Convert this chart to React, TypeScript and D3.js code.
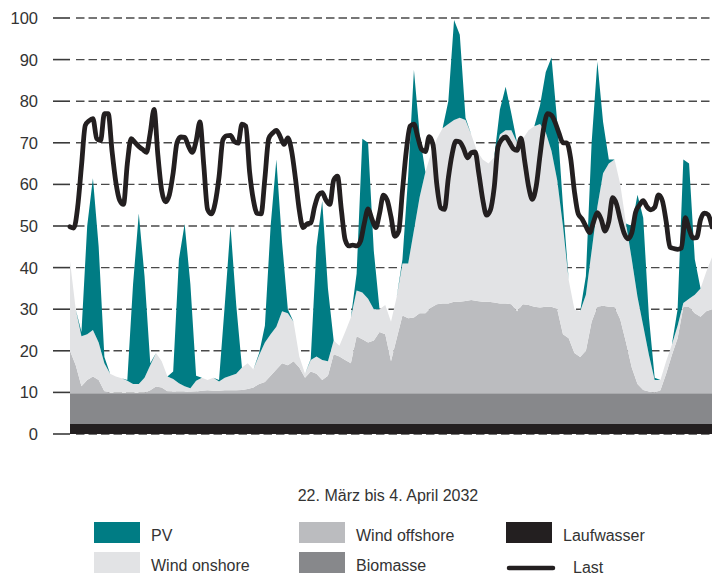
import React from 'react';
import * as d3 from 'd3';

// 22. März bis 4. April 2032, Werte in GW
// Flächen: 3-Stunden-Raster (113 Punkte), Last: 2-Stunden-Raster (169 Punkte)
const HOURS = 336;
const AREA_STEP = 3;
const LOAD_STEP = 2;

const laufwasser = 2.4;
const biomasse = 7.4;

const windOffshore = [
  10.2, 6.7, 1.7, 3.2, 4.0, 3.2, 0.5, 0.1, 0.1, 0.1, 0.1, 0.1, 0.1, 0.1, 0.7, 1.6,
  1.4, 0.5, 0.4, 0.4, 0.4, 0.3, 0.4, 0.6, 0.7, 0.6, 0.6, 0.7, 0.7, 0.7, 0.8, 1.0,
  1.4, 2.2, 2.7, 4.2, 5.7, 7.2, 6.7, 7.7, 6.2, 3.7, 5.2, 4.7, 3.2, 4.2, 9.4, 8.8,
  8.0, 7.2, 13.7, 13.0, 12.2, 12.7, 14.7, 14.2, 7.7, 13.2, 18.7, 18.0, 18.2, 19.2, 19.2, 20.6,
  21.4, 21.6, 21.6, 22.0, 22.0, 22.2, 22.4, 22.2, 22.0, 22.0, 21.8, 21.6, 21.6, 21.4, 19.7, 21.4,
  21.2, 20.8, 20.6, 20.8, 20.8, 20.2, 14.2, 13.2, 9.7, 8.7, 10.2, 17.2, 20.8, 21.0, 20.8, 20.7,
  17.7, 12.2, 6.2, 2.2, 0.8, 0.4, 0.1, 0.7, 4.7, 9.2, 13.2, 20.7, 20.7, 19.2, 18.4, 19.7,
  20.2,
];

const windOnshore = [
  21.5, 13.5, 12, 11, 11.2, 9, 6.7, 4.6, 3.9, 3.5, 2.9, 2.1, 2.1, 3.6, 6, 8.1,
  6.3, 3.5, 3, 2, 1.3, 0.9, 2.6, 3.1, 2.5, 3.1, 2.2, 3, 3.5, 4, 5.4, 6.2,
  4.3, 7, 9.5, 10, 10.3, 12.5, 12.5, 9.5, 2.6, 1, 2.8, 4.1, 4.8, 3.5, 3.3, 2.6,
  6.7, 11, 11, 11.2, 10.5, 7.5, 5.5, 7, 9.5, 10, 12.5, 13.2, 21, 28, 34, 37.1,
  39.8, 42.1, 43.1, 43.7, 44.2, 43.5, 39.8, 36, 34.2, 33.2, 34.9, 40.6, 41.6, 41.8, 40.5, 39.8,
  42, 43.4, 44.1, 41.9, 37.4, 31, 26, 14, 10.5, 11, 13.5, 17, 24, 31.9, 34.4, 35.5,
  32.5, 28.6, 26, 21, 15.4, 8.8, 3.1, 2.5, 3, 2.5, 3, 1, 2, 4.5, 6.8, 9.5,
  12.5,
];

const pv = [
  0, 0, 1, 26, 36.5, 23, 1.5, 0, 0, 0, 0.2, 24, 41, 24.5, 0.5, 0,
  0, 0, 1.8, 29.8, 39, 25, 1.2, 0, 0, 0, 0.4, 17.5, 36, 16.5, 0, 0,
  0, 0.5, 4, 26, 40.2, 16.5, 1, 0, 0, 0, 0.2, 26.4, 38.2, 17.5, 0, 0,
  0, 0, 4, 37, 37.5, 14, 0, 0, 0, 0, 1, 21, 38.5, 15, 0, 0,
  0, 0, 5.5, 24, 20, 0.5, 0, 0, 0, 0, 0, 6, 10.5, 4, 0, 0,
  0, 0, 4.5, 14.5, 22.5, 14, 5, 0, 0, 0, 4.5, 26, 34.9, 12.3, 1, 0,
  0, 0, 8, 24.5, 26, 9, 0.5, 0, 0, 0, 4, 34.5, 32.5, 8.5, 0, 0,
  0,
];

const last = [
  49.8, 49.5, 54.5, 64.4, 74.2, 75.3, 75.8, 71, 70.5, 77, 77, 68, 60.5, 56.2, 55.2, 65,
  71, 70.1, 69.1, 68.4, 67.7, 72.4, 78, 67, 58.5, 55.8, 57.5, 62.8, 70, 71.4, 71.3, 69.2,
  67.7, 70.4, 75, 64.7, 54, 52.9, 55.6, 61.8, 70.7, 71.7, 71.8, 70.3, 69.9, 74.5, 74, 63,
  56.2, 53, 52.9, 61.5, 71, 72.3, 73, 71.5, 69.6, 71.2, 68, 61.4, 53.8, 49.6, 50.5, 50.7,
  54.6, 57.4, 58, 56.2, 55.2, 61, 62, 54, 46.7, 45.2, 45.4, 45.2, 46.3, 50.6, 54.1, 51.7,
  49.6, 53, 57.4, 56.2, 52.2, 47.5, 48.7, 58.5, 68, 74, 74.5, 71.4, 68.4, 67.9, 71.5, 69.5,
  59.9, 54.4, 54, 61.5, 67.3, 70.4, 70.2, 68.6, 66.4, 67.6, 67.8, 62.5, 56.4, 52.6, 53.8, 59.2,
  69, 70.8, 71.4, 70.1, 68.6, 68.2, 71.1, 65.5, 59.5, 56.4, 59.6, 67, 73.8, 77, 76.6, 74.8,
  72.2, 70, 70, 66.3, 58.3, 52.9, 51.7, 49.9, 48.4, 51, 53.2, 51.6, 48.8, 51.1, 56.8, 55.3,
  51.5, 48.3, 46.9, 48.3, 53.3, 55, 56.1, 54.6, 53.9, 54.5, 57.5, 56.1, 51.1, 44.9, 44.6, 44.4,
  44.7, 52, 49.3, 47.1, 47.2, 51.5, 53.1, 52.7, 49.8,
];

const yTicks = [0, 10, 20, 30, 40, 50, 60, 70, 80, 90, 100];
const subtitle = '22. März bis 4. April 2032';

const seriesKeys = ['laufwasser', 'biomasse', 'offshore', 'onshore', 'pv'];
const colors: Record<string, string> = {
  pv: '#007c84',
  onshore: '#e2e3e5',
  offshore: '#bbbcbf',
  biomasse: '#87888b',
  laufwasser: '#231f20',
  last: '#231f20',
};

const legendItems = [
  { key: 'pv', label: 'PV', col: 0, row: 0 },
  { key: 'onshore', label: 'Wind onshore', col: 0, row: 1 },
  { key: 'offshore', label: 'Wind offshore', col: 1, row: 0 },
  { key: 'biomasse', label: 'Biomasse', col: 1, row: 1 },
  { key: 'laufwasser', label: 'Laufwasser', col: 2, row: 0 },
  { key: 'last', label: 'Last', col: 2, row: 1 },
];

const WIDTH = 712;
const HEIGHT = 575;
const margin = { top: 18, right: 0, bottom: 141, left: 70 };
const font = "'Liberation Sans', Arial, sans-serif";

type Row = { h: number; laufwasser: number; biomasse: number; offshore: number; onshore: number; pv: number };

const App: React.FC = () => {
  const x = d3.scaleLinear().domain([0, HOURS]).range([margin.left, WIDTH - margin.right]);
  const y = d3.scaleLinear().domain([0, 100]).range([HEIGHT - margin.bottom, margin.top]);

  const rows: Row[] = pv.map((v, i) => ({
    h: i * AREA_STEP,
    laufwasser,
    biomasse,
    offshore: windOffshore[i],
    onshore: windOnshore[i],
    pv: v,
  }));

  const stacked = d3.stack<Row>().keys(seriesKeys)(rows);

  const area = d3
    .area<d3.SeriesPoint<Row>>()
    .x((d) => x(d.data.h))
    .y0((d) => y(d[0]))
    .y1((d) => y(d[1]))
    .curve(d3.curveLinear);

  const loadLine = d3
    .line<number>()
    .x((_, i) => x(i * LOAD_STEP))
    .y((d) => y(d))
    .curve(d3.curveMonotoneX);

  // legend grid
  const colX = [94, 299, 506];
  const rowY = [522, 552];

  return (
    <svg
      width={WIDTH}
      height={HEIGHT}
      style={{ position: 'absolute', left: 0, top: 0, background: '#fff' }}
    >
      {/* grid */}
      <g>
        {yTicks.map((t) => (
          <g key={t}>
            <line x1={53} x2={margin.left} y1={y(t)} y2={y(t)} stroke="#3a3a3a" strokeWidth={1.6} />
            <line
              x1={76}
              x2={WIDTH}
              y1={y(t)}
              y2={y(t)}
              stroke="#4a4a4a"
              strokeWidth={1.4}
              strokeDasharray="8.5 4"
            />
            <text
              x={38}
              y={y(t)}
              dy="0.36em"
              textAnchor="end"
              fontFamily={font}
              fontSize={16.5}
              fill="#333"
            >
              {t}
            </text>
          </g>
        ))}
      </g>

      {/* stacked areas */}
      <g>
        {stacked.map((s) => (
          <path key={s.key} d={area(s) || ''} fill={colors[s.key]} />
        ))}
      </g>

      {/* load */}
      <path
        d={loadLine(last) || ''}
        fill="none"
        stroke={colors.last}
        strokeWidth={4.8}
        strokeLinejoin="round"
        strokeLinecap="round"
      />

      <text x={388} y={501} textAnchor="middle" fontFamily={font} fontSize={16} fill="#333">
        {subtitle}
      </text>

      {/* legend */}
      {legendItems.map((it) => {
        const lx = colX[it.col];
        const ly = rowY[it.row];
        const isLine = it.key === 'last';
        return (
          <g key={it.key}>
            {isLine ? (
              <line
                x1={lx + 3}
                x2={lx + 47}
                y1={ly + 16}
                y2={ly + 16}
                stroke={colors.last}
                strokeWidth={4.5}
                strokeLinecap="round"
              />
            ) : (
              <rect x={lx} y={ly} width={46} height={21} fill={colors[it.key]} />
            )}
            <text
              x={isLine ? lx + 67 : lx + 57}
              y={isLine ? ly + 20.5 : ly + 18.5}
              fontFamily={font}
              fontSize={16}
              fill="#333"
            >
              {it.label}
            </text>
          </g>
        );
      })}
    </svg>
  );
};

export default App;
